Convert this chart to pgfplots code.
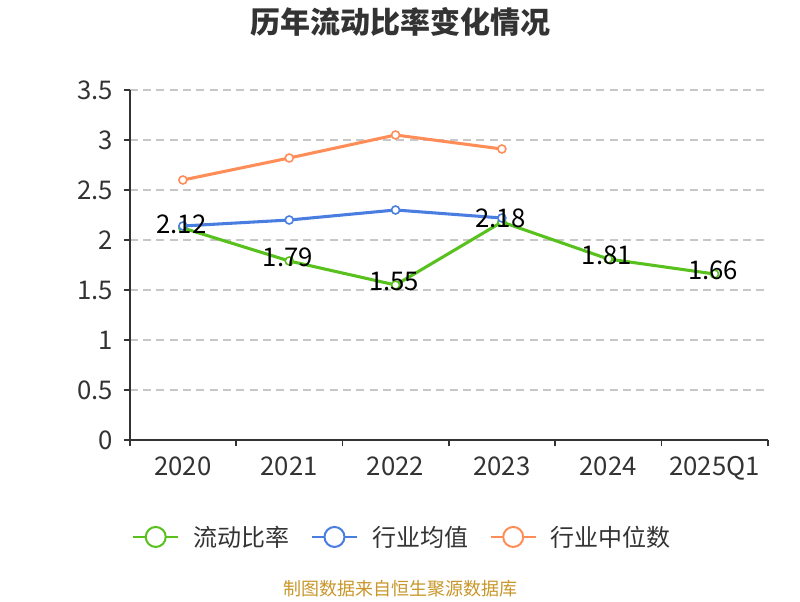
\documentclass[border=0pt]{standalone}
\usepackage{pgfplots}
\pgfplotsset{compat=1.18}
\usepackage{fontspec}
\setmainfont{Noto Sans CJK SC}
\definecolor{cgreen}{RGB}{88,193,30}
\definecolor{cblue}{RGB}{74,125,224}
\definecolor{corange}{RGB}{255,141,88}
\definecolor{ctext}{RGB}{51,51,51}
\definecolor{cgold}{RGB}{200,150,42}
\begin{document}
\begin{tikzpicture}[x=0.75pt,y=0.75pt]
\path (0,0) rectangle (800,600);
\node[font=\fontsize{22.5pt}{26pt}\selectfont\bfseries, text=ctext] at (400,578) {历年流动比率变化情况};
\node[font=\fontsize{13.5pt}{16pt}\selectfont, text=cgold] at (400,11) {制图数据来自恒生聚源数据库};
\begin{axis}[
  at={(122,160)}, anchor=south west,
  scale only axis, width=478.5pt, height=262.5pt,
  xmin=-0.5, xmax=5.5, ymin=0, ymax=3.5,
  axis x line*=bottom, axis y line*=left,
  axis line style={ctext, line width=1.2pt},
  tick align=outside,
  major tick length=4.5pt,
  tick style={ctext, line width=1.2pt},
  xtick={-0.5,0.5,...,5.5},
  x tick label as interval,
  xticklabels={2020,2021,2022,2023,2024,2025Q1},
  ytick={0,0.5,...,3.5},
  ymajorgrids,
  grid style={dash pattern=on 6pt off 4pt, color=black!22, line width=0.9pt},
  /pgf/number format/assume math mode=true,
  ticklabel style={font=\fontsize{19.3pt}{22pt}\selectfont, text=ctext},
  yticklabel style={xshift=-4.5pt},
  xticklabel style={yshift=-4.5pt},
  clip=false,
  legend columns=3,
  legend style={draw=none, fill=none, at={(0.4373,-0.277)}, anchor=center,
    font=\fontsize{18pt}{21pt}\selectfont, text=ctext,
    /tikz/every even column/.append style={column sep=5.4pt},
    nodes={inner xsep=10.7pt}},
  legend image code/.code={
    \draw[#1, line width=1.5pt] (0pt,0pt) -- (33.75pt,0pt);
    \draw[#1, line width=1.5pt, fill=white] (16.9pt,0pt) circle (7.5pt);
  },
  every axis plot/.append style={line width=2.3pt, mark=*, mark size=3pt,
    mark options={fill=white, line width=1.2pt}},
]
\addplot[cgreen] coordinates {(0,2.12) (1,1.79) (2,1.55) (3,2.18) (4,1.81) (5,1.66)};
\addlegendentry{流动比率}
\addplot[cblue] coordinates {(0,2.14) (1,2.20) (2,2.30) (3,2.22)};
\addlegendentry{行业均值}
\addplot[corange] coordinates {(0,2.60) (1,2.82) (2,3.05) (3,2.91)};
\addlegendentry{行业中位数}
\addplot[draw=none, mark=none, forget plot,
  point meta=explicit symbolic,
  nodes near coords,
  nodes near coords style={anchor=center, yshift=2.5pt, xshift=-1pt, text=black,
    font=\fontsize{19.3pt}{22pt}\selectfont}]
  coordinates {(0,2.12)[2.12] (1,1.79)[1.79] (2,1.55)[1.55] (3,2.18)[2.18] (4,1.81)[1.81] (5,1.66)[1.66]};
\end{axis}
\end{tikzpicture}
\end{document}
